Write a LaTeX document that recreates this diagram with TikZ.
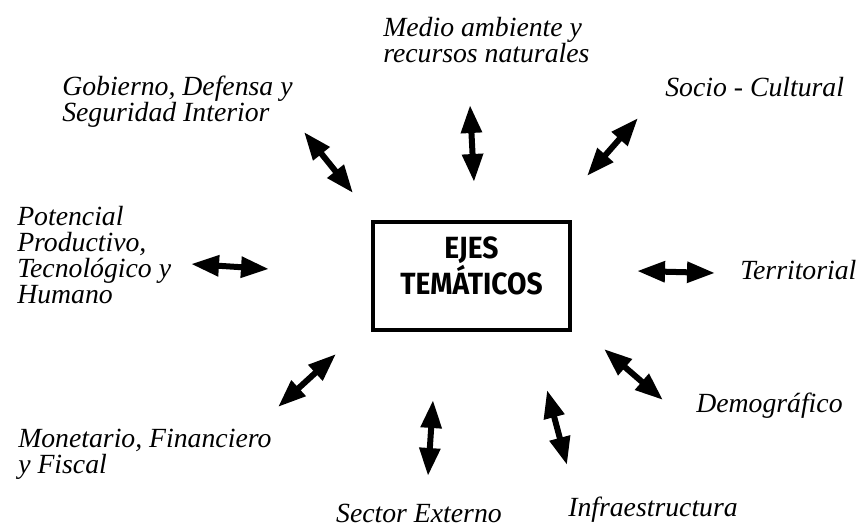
\documentclass[tikz,border=0pt]{standalone}
\usepackage{fontspec}
\setmainfont{Liberation Serif}
\newfontfamily\boxfont[FakeStretch=0.92]{Fira Sans}
\usetikzlibrary{arrows.meta}
\begin{document}
\begin{tikzpicture}[x=0.75pt,y=-0.75pt,
  lbl/.style={inner sep=0pt,anchor=base west,align=left,
    font=\itshape\fontsize{20.8pt}{19.5pt}\selectfont},
  dbl/.style={line width=4.5pt,{Triangle[length=21pt,width=15pt]}-{Triangle[length=21pt,width=15pt]}}]
\useasboundingbox (0,0) rectangle (863,527);
% centre box
\node (box) [draw,line width=3pt,minimum width=197*0.75pt,minimum height=108*0.75pt,inner sep=0pt] at (471.5,276) {};
\node (title) [align=center,inner sep=0pt,font=\boxfont\bfseries\fontsize{23pt}{23.25pt}\selectfont,anchor=base] at (471.5,294) {EJES\\TEMÁTICOS};
% labels (anchored at the baseline of their last line)
\node (medio) [lbl] at (383,63) {Medio ambiente y\\recursos naturales};
\node (socio) [lbl] at (665,97) {Socio - Cultural};
\node (gob) [lbl] at (62,122) {Gobierno, Defensa y\\Seguridad Interior};
\node (pot) [lbl] at (17,303) {Potencial\\Productivo,\\Tecnológico y\\Humano};
\node (terr) [lbl] at (740,279) {Territorial};
\node (demo) [lbl] at (696,412) {Demográfico};
\node (mon) [lbl] at (18,473) {Monetario, Financiero\\y Fiscal};
\node (sector) [lbl,anchor=base east] at (502,522) {Sector Externo};
\node (infra) [lbl] at (568,516) {Infraestructura};
% arrow ends
\coordinate (g1) at (304,132); \coordinate (g2) at (353,193);
\coordinate (m1) at (470,105); \coordinate (m2) at (474,182);
\coordinate (s1) at (638,118); \coordinate (s2) at (587,176);
\coordinate (p1) at (191,264); \coordinate (p2) at (269,269);
\coordinate (t1) at (637,271); \coordinate (t2) at (715,273);
\coordinate (d1) at (604,349); \coordinate (d2) at (663,400);
\coordinate (e1) at (433,400); \coordinate (e2) at (428,476);
\coordinate (i1) at (547,390); \coordinate (i2) at (567,465);
\coordinate (f1) at (278,407); \coordinate (f2) at (336,354);
\foreach \a/\b in {g1/g2,m1/m2,s1/s2,p1/p2,t1/t2,d1/d2,e1/e2,i1/i2,f1/f2}
  \draw[dbl] (\a) -- (\b);
\end{tikzpicture}
\end{document}
